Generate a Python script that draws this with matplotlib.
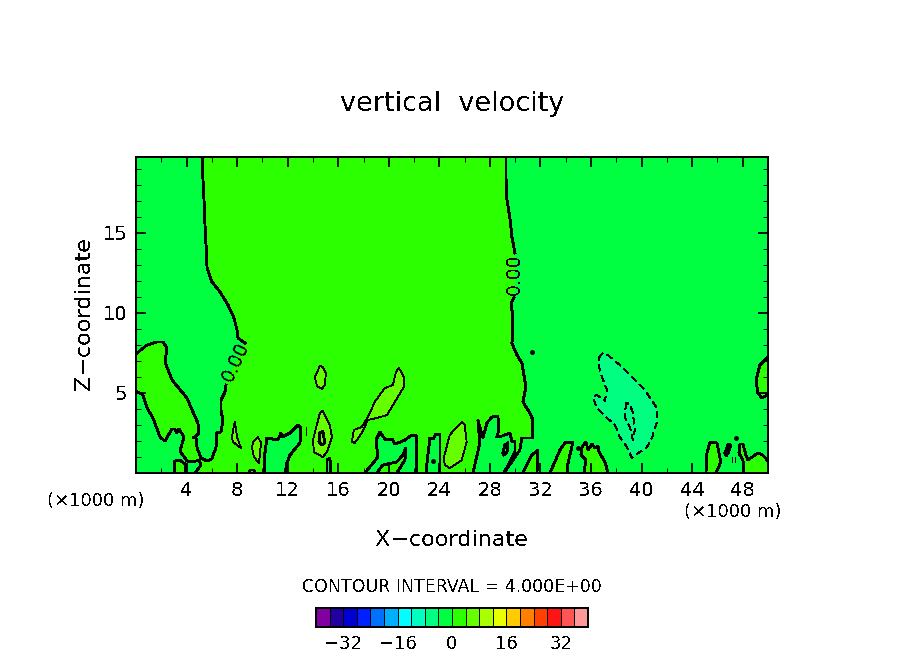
import matplotlib
matplotlib.use("Agg")
import matplotlib.pyplot as plt
from matplotlib.ticker import MultipleLocator

plt.rcParams['font.family'] = 'DejaVu Sans'
plt.rcParams['text.antialiased'] = False
plt.rcParams['lines.antialiased'] = False
plt.rcParams['patch.antialiased'] = False

# colour table, one box per 4 units from -40 to 40
levels = list(range(-40, 40, 4))
level_colors = ['#8000a0', '#2000a0', '#0000d0', '#0020ff', '#0070ff', '#00b0ff', '#00ffff',
                '#00ffc0', '#00ff80', '#00ff40', '#2bff00', '#66ff00', '#aaff00', '#e8ff00',
                '#ffcc00', '#ff8000', '#ff4000', '#ff1414', '#ff5555', '#ff9999']
cbar_ticks = [-32, -16, 0, 16, 32]
xticks = list(range(4, 49, 4))
yticks = [5, 10, 15]

GREEN = '#00ff40'
BRIGHT = '#2bff00'
LIME = '#66ff00'
MINT = '#00ff80'

# contours in km, None = gap in the line (label)
central = [(5.22, 19.75), (5.30, 18.31), (5.38, 17.06), (5.46, 15.5), (5.54, 14.25), (5.62, 12.81),
           (6.01, 11.94), (6.65, 11.31), (7.28, 10.5), (7.75, 9.69), (7.99, 8.94), (8.07, 8.44),
           (8.62, 8.12), None, (7.12, 5.5), (7.04, 5.06), (6.72, 4.56), (6.72, 3.94), (6.88, 3.31),
           (6.72, 2.56), (6.33, 2.5), (6.41, 2.31), (6.33, 1.62), (6.01, 0.88), (5.62, 0.75),
           (5.14, 0.94), (4.83, 1.56), (4.75, 2.19), (4.51, 2.19), (4.75, 2.31), (4.98, 2.5),
           (4.90, 3.12), (4.51, 3.81), (4.03, 4.69), (2.85, 5.81), (2.29, 6.94), (2.45, 7.81),
           (2.14, 8.19), (1.66, 8.19), (0.87, 8.0), (0.08, 7.5), (0, 7.44), (0, 5.12), (0.55, 4.88),
           (0.87, 4.06), (1.34, 3.44), (1.9, 2.25), (2.29, 2.0), (2.85, 2.75), (3.08, 2.75),
           (3.24, 2.5), (3.4, 2.75), (3.8, 2.25), (3.48, 1.38), (4.03, 0.75), (4.51, 0.69),
           (4.98, 0.81), (5.14, 0.5), (4.67, 0), (26.66, 0), (27.2, 1.88), (27.05, 3.31),
           (27.45, 2.19), (27.76, 3.12), (28.16, 3.5), (28.63, 3.56), (28.71, 2.69), (28.55, 2.25),
           (28.95, 2.31), (29.58, 2.5), (29.74, 2.0), (29.98, 1.94), (29.98, 1.31), (29.11, 0),
           (29.82, 0.81), (30.37, 1.44), (30.53, 2.19), (31.4, 2.19), (31.4, 3.31), (31.16, 3.75),
           (30.61, 4.44), (30.85, 5.38), (30.53, 6.88), (30.13, 7.38), (29.74, 8.12), (29.82, 8.94),
           (29.82, 9.75), (29.74, 10.19), (29.74, 10.69), (29.9, 10.94), None, (29.98, 13.75),
           (29.74, 14.75), (29.58, 15.94), (29.35, 17.06), (29.27, 18.44), (29.27, 19.75)]

# negative pockets inside the central area
green_pockets = [
    [(10.13, 0), (10.2, 1.25), (10.36, 2.19), (11.23, 2.06), (11.47, 2.5), (11.55, 2.25), (12.18, 2.5),
     (12.81, 3.0), (13.05, 2.81), (12.97, 1.88), (12.18, 1.12), (11.94, 0.62), (11.79, 0)],
    [(8.94, 0), (9.02, 0.19), (9.33, 0.19), (9.41, 0)],
    [(15.11, 0), (15.11, 0.81), (15.34, 0.94), (15.42, 0)],
    [(18.11, 0), (19.14, 1.0), (18.99, 2.06), (19.3, 2.56), (19.7, 2.12), (20.25, 2.12), (20.49, 1.81),
     (21.28, 2.06), (21.83, 2.38), (22.22, 2.31), (22.22, 0.94), (22.22, 0)],
    [(22.93, 0), (23.25, 2.19), (23.49, 2.12), (23.73, 2.44), (24.05, 2.38), (24.05, 0)],
    [(29.03, 1.25), (29.19, 1.75), (29.42, 1.88), (29.35, 1.31), (29.11, 1.12)],
]

# positive pockets back on the green side
bright_pockets = [
    [(3.08, 0), (3.08, 0.75), (3.48, 0.81), (3.96, 0.5), (3.88, 0)],
    [(19.05, 0), (19.53, 0.5), (20.63, 0.69), (21.11, 1.12), (21.35, 1.56), (21.28, 0.81), (20.63, 0)],
    [(30.61, 0), (31.32, 1.12), (31.8, 1.44), (31.72, 0)],
    [(32.75, 0), (33.54, 1.44), (33.94, 1.88), (34.57, 1.94), (34.18, 0.62), (34.1, 0)],
    [(35.44, 0), (35.6, 0.81), (35.2, 1.12), (35.28, 1.62), (35.6, 1.94), (35.76, 1.44), (36.08, 1.81),
     (36.31, 1.56), (36.55, 1.69), (36.63, 1.31), (37.1, 0.69), (37.34, 0)],
    [(45.09, 0), (45.17, 1.25), (45.4, 1.88), (45.96, 1.88), (46.27, 0.69), (45.88, 0)],
    [(48.1, 0), (48.02, 0.81), (47.7, 1.25), (47.78, 1.81), (48.02, 1.81), (48.25, 1.12), (48.41, 0.81),
     (49.2, 1.25), (49.59, 1.12), (50, 0.75), (50, 0)],
    [(50, 7.25), (49.36, 6.75), (49.05, 5.81), (49.2, 5.0), (49.52, 4.69), (50, 4.88)],
    [(46.6, 1.25), (46.84, 1.81), (47.07, 1.75), (46.84, 1.25), (46.68, 1.06)],
]

# +4 contours
lime_pockets = [
    [(24.35, 0.94), (24.82, 2.38), (25.77, 3.19), (26.0, 3.0), (26.16, 1.94), (25.77, 0.81), (24.82, 0.31),
     (24.43, 0.5)],
    [(14.15, 6.0), (14.55, 6.69), (14.78, 6.62), (15.02, 6.25), (14.94, 5.5), (14.71, 5.25), (14.31, 5.44)],
    [(14.0, 2.06), (14.55, 3.75), (14.78, 3.88), (15.34, 3.0), (15.5, 2.25), (15.11, 1.31), (14.78, 1.0),
     (14.08, 1.31)],
    [(17.07, 1.94), (17.23, 2.69), (17.86, 2.88), (18.35, 3.5), (18.89, 4.44), (19.68, 5.31), (20.33, 5.5),
     (20.56, 6.31), (20.8, 6.56), (21.19, 6.0), (21.19, 5.38), (20.33, 4.25), (19.85, 3.62), (19.06, 3.44),
     (18.35, 3.31), (17.86, 2.5), (17.31, 1.88)],
    [(7.83, 3.19), (7.99, 2.25), (8.31, 1.56), (7.67, 1.94), (7.59, 2.19), (7.75, 3.0)],
    [(9.25, 1.94), (9.65, 2.25), (9.89, 1.88), (9.73, 0.62), (9.33, 1.0), (9.18, 1.56)],
]
inner_loop = [(14.55, 2.5), (14.78, 2.62), (14.94, 1.88), (14.71, 1.75), (14.47, 1.94)]

# dashed negative contours
mint_area = [(36.6, 7.19), (36.92, 7.5), (37.31, 7.38), (38.28, 6.75), (39.31, 5.94), (40.26, 5.19),
             (41.21, 4.06), (41.21, 3.19), (40.82, 2.19), (40.42, 1.62), (39.63, 1.19), (39.23, 0.94),
             (38.84, 1.62), (38.28, 2.25), (37.89, 3.0), (37.26, 3.44), (36.46, 4.06), (36.15, 4.75),
             (36.46, 4.88), (37.1, 4.5), (37.26, 5.19), (36.86, 6.0), (36.6, 6.75)]
mint_inner = [(38.76, 4.38), (38.68, 3.5), (39.07, 2.88), (39.31, 2.06), (39.47, 2.69), (39.31, 3.75),
              (39.07, 4.31)]

dots_x = [31.3, 34.94, 47.43, 23.49]
dots_y = [7.56, 1.56, 2.19, 0.75]
# tiny closed contours seen as short strokes
strokes = [[(13.44, 2.4), (13.44, 2.85)], [(47.13, 0.7), (47.13, 1.0)], [(47.37, 0.7), (47.37, 1.0)]]


def close(pts):
    return pts + [pts[0]]


def draw_pocket(ax, pts, color, lw, ls='-'):
    xs = [p[0] for p in pts]
    ys = [p[1] for p in pts]
    ax.fill(xs, ys, color=color, lw=0)
    c = close(pts)
    ax.plot([p[0] for p in c], [p[1] for p in c], color='k', lw=lw, ls=ls)


fig = plt.figure(figsize=(9.04, 6.54), dpi=100)
ax = fig.add_axes([136 / 904, (654 - 473) / 654, 632 / 904, 316 / 654])
ax.set_facecolor(GREEN)
ax.set_xlim(0, 50)
ax.set_ylim(0, 19.75)

pts = [p for p in central if p is not None]
ax.fill([p[0] for p in pts], [p[1] for p in pts], color=BRIGHT, lw=0)
ax.plot([p[0] if p else float('nan') for p in central],
        [p[1] if p else float('nan') for p in central], color='k', lw=1.35)

for poly in green_pockets:
    draw_pocket(ax, poly, GREEN, 1.35)
for poly in bright_pockets:
    draw_pocket(ax, poly, BRIGHT, 1.35)
for poly in lime_pockets:
    draw_pocket(ax, poly, LIME, 0.6)
draw_pocket(ax, inner_loop, LIME, 1.35)
draw_pocket(ax, mint_area, MINT, 0.7, ls=(0, (7, 5)))
draw_pocket(ax, mint_inner, MINT, 0.7, ls=(0, (7, 5)))
ax.plot(dots_x, dots_y, 'o', color='k', ms=2.5)
for st in strokes:
    ax.plot([p[0] for p in st], [p[1] for p in st], color='k', lw=0.7)

ax.text(7.9, 6.95, '0.00', rotation=65, ha='center', va='center', fontsize=13.5)
ax.text(29.95, 12.45, '0.00', rotation=90, ha='center', va='center', fontsize=13.5)

ax.xaxis.set_minor_locator(MultipleLocator(2))
ax.yaxis.set_minor_locator(MultipleLocator(1))
ax.set_xticks(xticks)
ax.set_yticks(yticks)
ax.tick_params(which='major', direction='in', top=True, right=True, length=7, width=1.3,
               labelsize=14, pad=6)
ax.tick_params(which='minor', direction='in', top=True, right=True, length=3.5, width=0.7)
for s in ax.spines.values():
    s.set_linewidth(1.4)
    s.set_zorder(5)

fig.text(452 / 904, 1 - 104 / 654, 'vertical  velocity', ha='center', va='center', fontsize=19.5)
fig.text(452 / 904, 1 - 540 / 654, 'X\u2212coordinate', ha='center', va='center', fontsize=16)
fig.text(84 / 904, 1 - 314 / 654, 'Z\u2212coordinate', ha='center', va='center', rotation=90, fontsize=16)
fig.text(96 / 904, 1 - 501 / 654, '(\u00d71000 m)', ha='center', va='center', fontsize=13)
fig.text(733 / 904, 1 - 512 / 654, '(\u00d71000 m)', ha='center', va='center', fontsize=13)
fig.text(452 / 904, 1 - 587 / 654, 'CONTOUR INTERVAL = 4.000E+00', ha='center', va='center', fontsize=12.5)

cax = fig.add_axes([316 / 904, (654 - 627) / 654, 272 / 904, 19 / 654])
cax.bar(levels, [1] * len(levels), width=4, align='edge', color=level_colors, edgecolor='k', linewidth=0.7)
cax.set_xlim(-40, 40)
cax.set_ylim(0, 1)
cax.set_yticks([])
cax.set_xticks(cbar_ticks)
cax.set_xticklabels(['\u221232', '\u221216', '0', '16', '32'])
cax.tick_params(axis='x', length=0, labelsize=13, pad=6)
for s in cax.spines.values():
    s.set_linewidth(1.3)

fig.savefig('out.png', dpi=100)
